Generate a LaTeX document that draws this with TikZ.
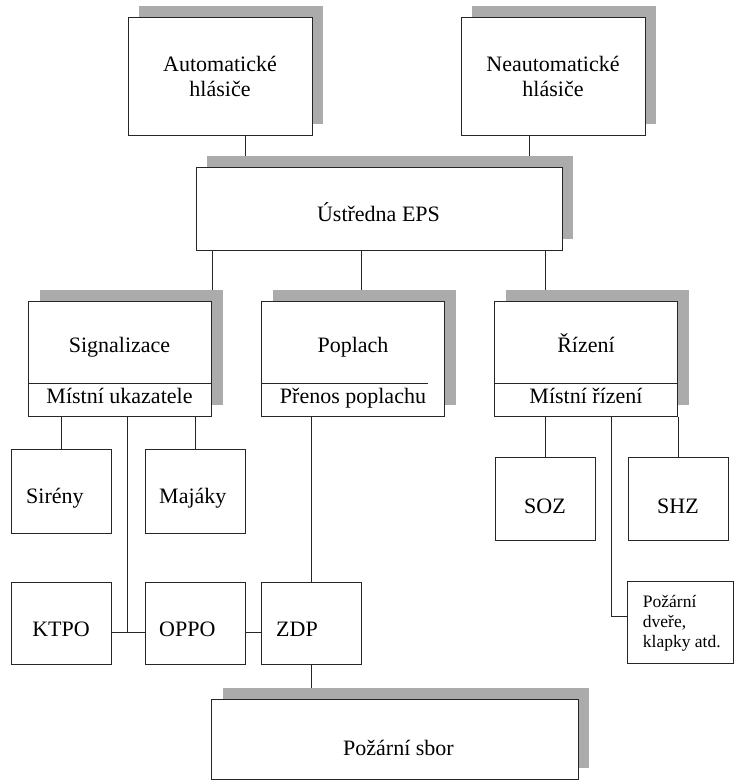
\documentclass[tikz,border=0pt]{standalone}
\usepackage{fontspec}
\setmainfont{Liberation Serif}
\usetikzlibrary{shadows, backgrounds}

\tikzset{
  box/.style={draw=black!85, line width=1pt, fill=white, inner sep=0pt},
  shadowbox/.style={box, drop shadow={shadow xshift=11pt, shadow yshift=11pt, opacity=1, fill=black!33}},
  bigbox/.style={shadowbox, minimum width=184pt, minimum height=118pt},
  splitbox/.style={shadowbox, minimum width=183pt, minimum height=115pt},
  smallbox/.style={box, minimum width=100pt, minimum height=83pt},
  txt/.style={inner sep=0pt, anchor=base, align=center},
  wire/.style={draw=black!85, line width=0.9pt},
}

\begin{document}
\begin{tikzpicture}[x=1pt, y=-1pt, font=\fontsize{22}{25}\selectfont]
  \useasboundingbox (0,0) rectangle (735,780);
  % detectors and control panel
  \node[bigbox] (auto) at (220,76) {};
  \node[bigbox] (neauto) at (553,76) {};
  \node[shadowbox, minimum width=366pt, minimum height=83pt] (ustr) at (379,208.5) {};
  \node[txt] (autot) at (220,96.7) {Automatické\\hlásiče};
  \node[txt] (neautot) at (553,96.7) {Neautomatické\\hlásiče};
  \node[txt] (ustrt) at (378.5,221.7) {Ústředna EPS};
  % three branches, each with a lower part
  \node[splitbox] (sig) at (120,358.5) {};
  \node[splitbox] (pop) at (353,358.5) {};
  \node[splitbox] (riz) at (586,358.5) {};
  \draw[wire] (sig.west |- 0,383) -- (sig.east |- 0,383);
  \draw[wire] (pop.west |- 0,383) -- (428,383);
  \draw[wire] (riz.west |- 0,383) -- (riz.east |- 0,383);
  \node[txt] (sigt) at (119.5,352.3) {Signalizace};
  \node[txt] (sigb) at (119.5,403.3) {Místní ukazatele};
  \node[txt] (popt) at (353,352.3) {Poplach};
  \node[txt] (popb) at (353,403.3) {Přenos poplachu};
  \node[txt] (rizt) at (586,352.3) {Řízení};
  \node[txt] (rizb) at (586,403.3) {Místní řízení};
  % small boxes
  \node[smallbox, minimum height=84pt] (sir) at (61.7,491) {};
  \node[smallbox, minimum height=84pt] (maj) at (195,491) {};
  \node[smallbox] (soz) at (545,499) {};
  \node[smallbox] (shz) at (678,499) {};
  \node[smallbox, minimum height=82pt] (ktpo) at (61.7,623.7) {};
  \node[smallbox, minimum height=82pt] (oppo) at (195,623.7) {};
  \node[smallbox, minimum height=82pt] (zdp) at (311.7,623.7) {};
  \node[smallbox, minimum width=106pt, minimum height=82pt] (dvere) at (680.3,622.5) {};
  \node[shadowbox, minimum width=366.6pt, minimum height=80pt] (sbor) at (395,739.3) {};
  \node[txt, anchor=base west] (sirt) at (26,503.3) {Sirény};
  \node[txt, anchor=base west] (majt) at (159,503.3) {Majáky};
  \node[txt] (sozt) at (545,513.3) {SOZ};
  \node[txt] (shzt) at (678,513.3) {SHZ};
  \node[txt] (ktpot) at (61,636.7) {KTPO};
  \node[txt, anchor=base west] (oppot) at (159,636.7) {OPPO};
  \node[txt, anchor=base west] (zdpt) at (276,636.7) {ZDP};
  \node[txt, anchor=base west, align=left, font=\fontsize{17.5}{20}\selectfont] (dveret)
    at (642.7,647.7) {Požární\\dveře,\\klapky atd.};
  \node[txt] (sbort) at (398.5,755) {Požární sbor};
  % joints
  \coordinate (jk) at (127.7,632.3);
  \coordinate (jd) at (611,616.7);
  % connectors, under the shadows
  \begin{scope}[on background layer]
    \draw[wire] (auto.south -| 245,0) -- (ustr.north -| 245,0);
    \draw[wire] (neauto.south -| 529,0) -- (ustr.north -| 529,0);
    \draw[wire] (ustr.south -| sig.north east) -- (sig.north east);
    \draw[wire] (ustr.south -| 361,0) -- (pop.north -| 361,0);
    \draw[wire] (ustr.south -| soz) -- (riz.north -| soz);
    \draw[wire] (sig.south -| sir) -- (sir.north);
    \draw[wire] (sig.south -| maj) -- (maj.north);
    \draw[wire] (sig.south -| jk) -- (jk);
    \draw[wire] (ktpo.east |- jk) -- (oppo.west |- jk);
    \draw[wire] (oppo.east |- jk) -- (zdp.west |- jk);
    \draw[wire] (pop.south -| zdp) -- (zdp.north);
    \draw[wire] (zdp.south) -- (sbor.north -| zdp);
    \draw[wire] (riz.south -| soz) -- (soz.north);
    \draw[wire] (riz.south east) -- (shz.north -| riz.south east);
    \draw[wire] (riz.south -| jd) -- (jd) -- (dvere.west |- jd);
  \end{scope}
\end{tikzpicture}
\end{document}
